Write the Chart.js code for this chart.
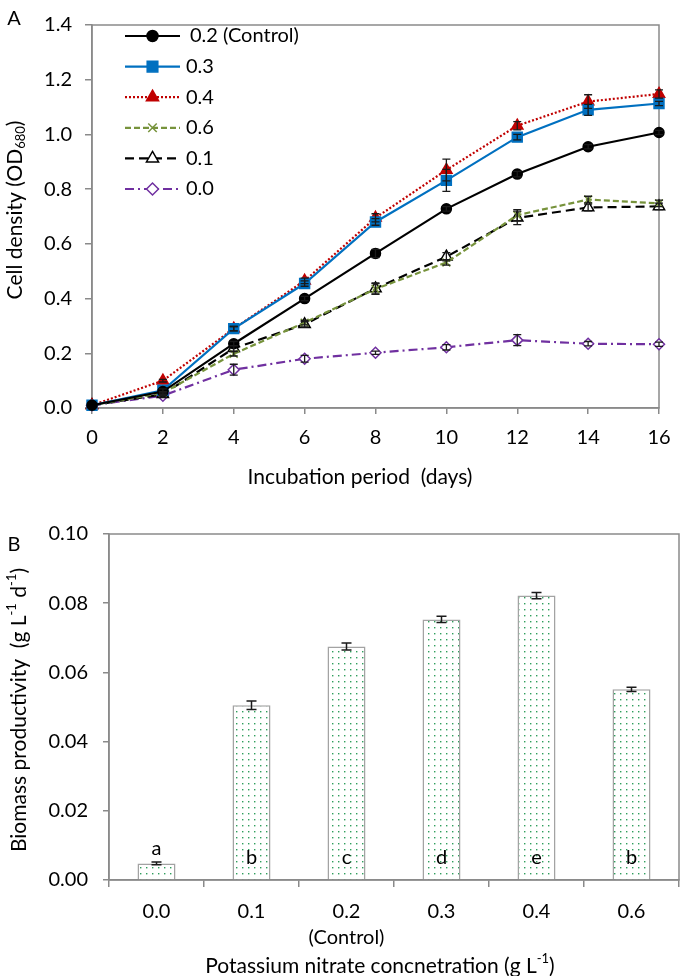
<!DOCTYPE html>
<html>
<head>
<meta charset="utf-8">
<script src="https://cdn.jsdelivr.net/npm/chart.js@4"></script>
<style>
  html, body { margin: 0; padding: 0; background: #fff; }
  #wrap { position: relative; width: 685px; height: 976px; }
  canvas { position: absolute; left: 0; }
  #growth { top: 0; }
  #biomass { top: 505px; }
</style>
</head>
<body>
<div id="wrap">
  <canvas id="growth" width="685" height="505"></canvas>
  <canvas id="biomass" width="685" height="471"></canvas>
</div>
<script>
'use strict';
const FONT = 'Lato, "Open Sans", sans-serif';
const AXIS_GREY = '#8a8a8a';
const TEXT = '#000';

// ---- panel A : growth curves (OD680) ----
const days = [0, 2, 4, 6, 8, 10, 12, 14, 16];
const seriesLabels = ['0.2 (Control)', '0.3', '0.4', '0.6', '0.1', '0.0'];
const od02 = [0.010, 0.060, 0.235, 0.400, 0.565, 0.728, 0.855, 0.955, 1.007];
const od03 = [0.010, 0.065, 0.290, 0.455, 0.680, 0.832, 0.990, 1.090, 1.113];
const od04 = [0.010, 0.100, 0.290, 0.465, 0.695, 0.870, 1.032, 1.120, 1.148];
const od06 = [0.010, 0.055, 0.198, 0.312, 0.435, 0.532, 0.705, 0.762, 0.748];
const od01 = [0.010, 0.050, 0.218, 0.306, 0.437, 0.553, 0.695, 0.733, 0.737];
const od00 = [0.010, 0.045, 0.140, 0.180, 0.202, 0.222, 0.248, 0.235, 0.233];
const od02Err = [0, 0, 0.008, 0.008, 0.015, 0.008, 0.010, 0.008, 0.008];
const od03Err = [0, 0.005, 0.008, 0.010, 0.012, 0.040, 0.010, 0.020, 0.008];
const od04Err = [0, 0.005, 0.008, 0.010, 0.015, 0.040, 0.015, 0.025, 0.015];
const od06Err = [0, 0.005, 0.008, 0.008, 0.020, 0.010, 0.020, 0.012, 0.012];
const od01Err = [0, 0.005, 0.010, 0.010, 0.020, 0.015, 0.025, 0.012, 0.012];
const od00Err = [0, 0.005, 0.020, 0.012, 0.006, 0.010, 0.020, 0.008, 0.008];

// ---- panel B : biomass productivity ----
const concLabels = ['0.0', '0.1', '0.2', '0.3', '0.4', '0.6'];
const productivity = [0.0048, 0.0505, 0.0675, 0.0753, 0.0822, 0.0551];
const productivityErr = [0.0004, 0.0012, 0.0010, 0.0009, 0.0009, 0.0006];
const sigLetters = ['a', 'b', 'c', 'd', 'e', 'b'];

function toPts(vals) {
  return vals.map((v, i) => ({ x: days[i], y: v }));
}

// text with sub/superscript parts, optionally rotated
function drawRich(ctx, parts, cx, cy, rotate, size) {
  const small = Math.round(size * 0.62);
  ctx.save();
  ctx.translate(cx, cy);
  if (rotate) ctx.rotate(-Math.PI / 2);
  ctx.fillStyle = TEXT;
  ctx.textBaseline = 'middle';
  ctx.textAlign = 'left';
  let total = 0;
  parts.forEach(p => {
    ctx.font = (p[1] ? small : size) + 'px ' + FONT;
    total += ctx.measureText(p[0]).width;
  });
  let x = -total / 2;
  parts.forEach(p => {
    ctx.font = (p[1] ? small : size) + 'px ' + FONT;
    let dy = 0;
    if (p[1] === 'sub') dy = size * 0.3;
    if (p[1] === 'sup') dy = -size * 0.33;
    ctx.fillText(p[0], x, dy);
    x += ctx.measureText(p[0]).width;
  });
  ctx.restore();
}

const richTitles = {
  id: 'richTitles',
  afterDraw(chart, args, opts) {
    (opts.items || []).forEach(it => drawRich(chart.ctx, it.parts, it.x, it.y, it.rotate, it.size || 21));
  }
};

const frame = {
  id: 'frame',
  beforeDatasetsDraw(chart) {
    const a = chart.chartArea, ctx = chart.ctx;
    ctx.save();
    ctx.strokeStyle = AXIS_GREY;
    ctx.lineWidth = 1.5;
    ctx.strokeRect(a.left, a.top, a.right - a.left, a.bottom - a.top);
    ctx.restore();
  }
};

const errorBars = {
  id: 'errorBars',
  afterDatasetsDraw(chart, args, opts) {
    const ctx = chart.ctx, yScale = chart.scales.y;
    chart.data.datasets.forEach((ds, i) => {
      if (!ds.errors) return;
      chart.getDatasetMeta(i).data.forEach((el, j) => {
        const e = ds.errors[j];
        if (!e) return;
        const d = ds.data[j];
        const v = (typeof d === 'object') ? d.y : d;
        const top = yScale.getPixelForValue(v + e);
        const bot = yScale.getPixelForValue(v - e);
        const c = opts.cap || 4;
        ctx.save();
        ctx.strokeStyle = '#1a1a1a';
        ctx.lineWidth = opts.width || 1.3;
        ctx.beginPath();
        ctx.moveTo(el.x, top); ctx.lineTo(el.x, bot);
        ctx.moveTo(el.x - c, top); ctx.lineTo(el.x + c, top);
        ctx.moveTo(el.x - c, bot); ctx.lineTo(el.x + c, bot);
        ctx.stroke();
        ctx.restore();
      });
    });
  }
};

const lineLegend = {
  id: 'lineLegend',
  afterDraw(chart, args, o) {
    const ctx = chart.ctx;
    chart.data.datasets.forEach((ds, i) => {
      const y = o.y0 + i * o.dy;
      ctx.save();
      ctx.strokeStyle = ds.borderColor;
      ctx.lineWidth = ds.borderWidth;
      ctx.setLineDash(ds.borderDash || []);
      ctx.beginPath();
      ctx.moveTo(o.x0, y); ctx.lineTo(o.x1, y);
      ctx.stroke();
      ctx.setLineDash([]);
      ctx.fillStyle = ds.pointBackgroundColor;
      ctx.strokeStyle = ds.pointBorderColor;
      ctx.lineWidth = ds.pointBorderWidth;
      Chart.helpers.drawPoint(ctx, {
        pointStyle: ds.pointStyle, radius: ds.pointRadius + 0.5,
        borderWidth: ds.pointBorderWidth, rotation: 0
      }, (o.x0 + o.x1) / 2, y);
      ctx.fillStyle = TEXT;
      ctx.font = '20px ' + FONT;
      ctx.textBaseline = 'middle';
      ctx.fillText(ds.label, i === 0 ? o.tx + 4 : o.tx, y);
      ctx.restore();
    });
  }
};

const letters = {
  id: 'letters',
  afterDatasetsDraw(chart) {
    const ctx = chart.ctx, yScale = chart.scales.y;
    const meta = chart.getDatasetMeta(0);
    const inside = yScale.getPixelForValue(0.0065);
    ctx.save();
    ctx.fillStyle = TEXT;
    ctx.font = '20px ' + FONT;
    ctx.textAlign = 'center';
    ctx.textBaseline = 'middle';
    meta.data.forEach((el, j) => {
      const errTop = yScale.getPixelForValue(productivity[j] + productivityErr[j]);
      const y = (el.y < inside - 15) ? inside : errTop - 13;
      ctx.fillText(sigLetters[j], el.x, y);
    });
    ctx.restore();
  }
};

function lineSet(label, vals, errs, color, dash, style, radius, fill) {
  return {
    label: label, data: toPts(vals), errors: errs,
    borderColor: color, backgroundColor: color, borderWidth: 2.2, borderDash: dash,
    pointStyle: style, pointRadius: radius,
    pointBackgroundColor: fill, pointBorderColor: color, pointBorderWidth: 1.5,
    tension: 0, clip: false
  };
}

const tickFont = { family: FONT, size: 20 };

new Chart(document.getElementById('growth'), {
  type: 'line',
  data: {
    datasets: [
      lineSet(seriesLabels[0], od02, od02Err, '#000000', [], 'circle', 5, '#000000'),
      lineSet(seriesLabels[1], od03, od03Err, '#0070C0', [], 'rect', 7, '#0070C0'),
      lineSet(seriesLabels[2], od04, od04Err, '#C00000', [2, 2], 'triangle', 6.5, '#C00000'),
      lineSet(seriesLabels[3], od06, od06Err, '#77933C', [6, 3], 'crossRot', 5.5, '#77933C'),
      lineSet(seriesLabels[4], od01, od01Err, '#000000', [9, 5], 'triangle', 6.5, '#ffffff'),
      lineSet(seriesLabels[5], od00, od00Err, '#7030A0', [9, 4, 2, 4], 'rectRot', 5.5, '#ffffff')
    ]
  },
  options: {
    responsive: false,
    animation: false,
    layout: { padding: { top: 13, right: 26, left: 0, bottom: 0 } },
    plugins: {
      legend: { display: false },
      tooltip: { enabled: false },
      errorBars: { cap: 4, width: 1.3 },
      lineLegend: { x0: 125, x1: 180, tx: 186, y0: 36, dy: 30.6 },
      richTitles: {
        items: [
          { parts: [['A']], x: 14, y: 19, size: 20 },
          { parts: [['Cell density (OD'], ['680', 'sub'], [')']], x: 15, y: 210, rotate: true },
          { parts: [['Incubation period  (days)']], x: 360, y: 477 }
        ]
      }
    },
    scales: {
      x: {
        type: 'linear', min: 0, max: 16,
        ticks: { stepSize: 2, font: tickFont, color: TEXT, padding: 12 },
        grid: { drawOnChartArea: false, tickLength: 6, color: AXIS_GREY, lineWidth: 1.5 },
        border: { color: AXIS_GREY, width: 1.5 },
        afterFit(s) { s.height = 97; }
      },
      y: {
        min: 0, max: 1.4,
        ticks: { stepSize: 0.2, font: tickFont, color: TEXT, padding: 13, callback: v => v.toFixed(1) },
        grid: { drawOnChartArea: false, tickLength: 7, color: AXIS_GREY, lineWidth: 1.5 },
        border: { color: AXIS_GREY, width: 1.5 },
        afterFit(s) { s.width = 92; }
      }
    }
  },
  plugins: [frame, errorBars, lineLegend, richTitles]
});

const bctx = document.getElementById('biomass').getContext('2d');
function dotPattern() {
  const c = document.createElement('canvas');
  c.width = 6; c.height = 6;
  const g = c.getContext('2d');
  g.fillStyle = '#ffffff';
  g.fillRect(0, 0, 6, 6);
  g.fillStyle = '#2f9e5c';
  g.fillRect(2, 2, 1.4, 1.4);
  return bctx.createPattern(c, 'repeat');
}

new Chart(bctx, {
  type: 'bar',
  data: {
    labels: concLabels.map(l => l === '0.2' ? [l, '(Control)'] : l),
    datasets: [{
      data: productivity, errors: productivityErr,
      backgroundColor: dotPattern(), borderColor: '#a3a3a3', borderWidth: 1.5,
      barPercentage: 0.4, categoryPercentage: 1
    }]
  },
  options: {
    responsive: false,
    animation: false,
    layout: { padding: { top: 29, right: 6, left: 0, bottom: 0 } },
    plugins: {
      legend: { display: false },
      tooltip: { enabled: false },
      errorBars: { cap: 5, width: 1.5 },
      richTitles: {
        items: [
          { parts: [['B']], x: 14, y: 40, size: 20 },
          { parts: [['Biomass productivity  (g L'], ['-1', 'sup'], [' d'], ['-1', 'sup'], [')']], x: 19, y: 205, rotate: true },
          { parts: [['Potassium nitrate concnetration (g L'], ['-1', 'sup'], [')']], x: 380, y: 461 }
        ]
      }
    },
    scales: {
      x: {
        ticks: { font: { family: FONT, size: 20, lineHeight: 1.3 }, color: TEXT, padding: 12 },
        grid: { offset: true, drawOnChartArea: false, tickLength: 7, color: AXIS_GREY, lineWidth: 1.5 },
        border: { color: AXIS_GREY, width: 1.5 },
        afterFit(s) { s.height = 96; }
      },
      y: {
        min: 0, max: 0.1,
        ticks: { stepSize: 0.02, font: tickFont, color: TEXT, padding: 15, callback: v => v.toFixed(2) },
        grid: { drawOnChartArea: false, tickLength: 6, color: AXIS_GREY, lineWidth: 1.5 },
        border: { color: AXIS_GREY, width: 1.5 },
        afterFit(s) { s.width = 109; }
      }
    }
  },
  plugins: [frame, errorBars, letters, richTitles]
});
</script>
</body>
</html>
